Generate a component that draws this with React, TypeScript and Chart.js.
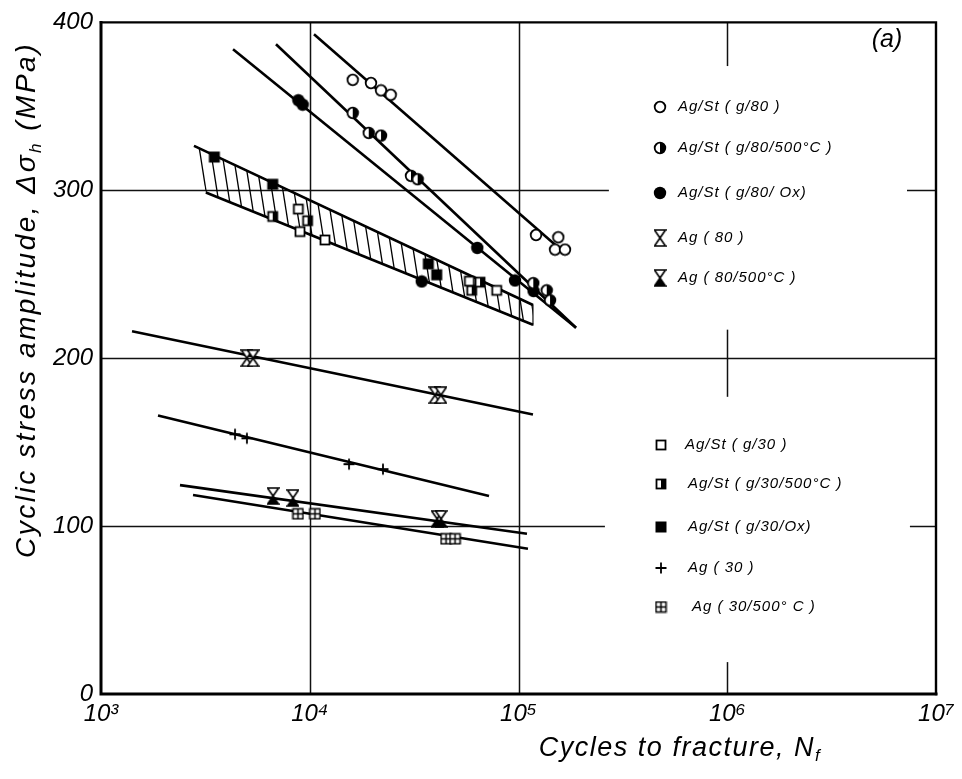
import React, { useEffect, useRef } from 'react';
import { Chart, registerables } from 'chart.js';
Chart.register(...registerables);

type P = { x: number; y: number };

// ---- axes ----
const xTickValues = [1e3, 1e4, 1e5, 1e6, 1e7];
const xTickLabels = ['10³', '10⁴', '10⁵', '10⁶', '10⁷'];
const yTickValues = [0, 100, 200, 300, 400];

// ---- partial grid lines (data coords) ----
const gridVertical = [
  { x: 1e4, y0: 0, y1: 400 },
  { x: 1e5, y0: 0, y1: 400 },
  { x: 1e6, y0: 374, y1: 400 },
  { x: 1e6, y0: 177, y1: 217 },
  { x: 1e6, y0: 0, y1: 19 },
];
const gridHorizontal = [
  { y: 300, x0: 1e3, x1: 271000 },
  { y: 300, x0: 7.26e6, x1: 1e7 },
  { y: 200, x0: 1e3, x1: 1e7 },
  { y: 100, x0: 1e3, x1: 259400 },
  { y: 100, x0: 7.5e6, x1: 1e7 },
];

// ---- measured points ----
const agStG80: P[] = [
  { x: 16060, y: 365.8 }, { x: 19650, y: 363.9 }, { x: 21950, y: 359.5 }, { x: 24420, y: 356.9 },
  { x: 121300, y: 273.4 }, { x: 155100, y: 272.0 }, { x: 149600, y: 264.7 }, { x: 167000, y: 264.7 },
];
const agStG80_500: P[] = [
  { x: 16060, y: 346.1 }, { x: 19160, y: 334.2 }, { x: 21950, y: 332.6 }, { x: 30550, y: 308.6 },
  { x: 32890, y: 306.6 }, { x: 117700, y: 244.7 }, { x: 136500, y: 240.4 }, { x: 141600, y: 234.5 },
];
const agStG80Ox: P[] = [
  { x: 8815, y: 353.6 }, { x: 9250, y: 351.0 }, { x: 34390, y: 245.7 }, { x: 63480, y: 265.7 },
  { x: 96200, y: 246.3 }, { x: 118000, y: 240.0 },
];
const ag80: P[] = [
  { x: 5000, y: 200 }, { x: 5350, y: 200 }, { x: 39800, y: 178 }, { x: 42500, y: 178 },
];
const ag80_500: P[] = [
  { x: 6670, y: 117.9 }, { x: 8310, y: 116.7 }, { x: 40740, y: 104.3 }, { x: 42560, y: 104.3 },
];
const agStG30: P[] = [
  { x: 8815, y: 288.8 }, { x: 8980, y: 275.4 }, { x: 11830, y: 270.4 }, { x: 58130, y: 245.9 }, { x: 78630, y: 240.4 },
];
const agStG30_500: P[] = [
  { x: 6645, y: 284.4 }, { x: 9765, y: 281.9 }, { x: 59680, y: 240.4 }, { x: 65400, y: 245.3 },
];
const agStG30Ox: P[] = [
  { x: 3490, y: 319.8 }, { x: 6645, y: 303.6 }, { x: 36980, y: 256.2 }, { x: 40570, y: 249.7 },
];
const ag30: P[] = [
  { x: 4385, y: 154.7 }, { x: 5000, y: 152.3 }, { x: 15420, y: 136.9 }, { x: 22430, y: 133.9 },
];
const ag30_500: P[] = [
  { x: 8780, y: 107.3 }, { x: 10590, y: 107.3 }, { x: 44960, y: 92.4 }, { x: 49640, y: 92.4 },
];

// ---- fitted lines ----
const fitG80: P[] = [{ x: 10480, y: 392.9 }, { x: 168900, y: 261.9 }];
const fitG80_500: P[] = [{ x: 6890, y: 387.0 }, { x: 188600, y: 218.1 }];
const fitG80Ox: P[] = [{ x: 4290, y: 384.0 }, { x: 188600, y: 218.1 }];
const bandUpper: P[] = [{ x: 2790, y: 326.5 }, { x: 117300, y: 231.7 }];
const bandLower: P[] = [{ x: 3180, y: 298.7 }, { x: 117300, y: 219.9 }];
const fitAg80: P[] = [{ x: 1408, y: 216.0 }, { x: 117300, y: 166.5 }];
const fitAg30: P[] = [{ x: 1875, y: 165.9 }, { x: 72230, y: 117.9 }];
const fitAg80_500: P[] = [{ x: 2390, y: 124.4 }, { x: 109800, y: 95.4 }];
const fitAg30_500: P[] = [{ x: 2760, y: 118.5 }, { x: 111000, y: 86.5 }];

// ---- legend text ----
const legendTop = ['Ag/St ( g/80 )', 'Ag/St ( g/80/500°C )', 'Ag/St ( g/80/ Ox)', 'Ag ( 80 )', 'Ag ( 80/500°C )'];
const legendBottom = ['Ag/St ( g/30 )', 'Ag/St ( g/30/500°C )', 'Ag/St ( g/30/Ox)', 'Ag ( 30 )', 'Ag ( 30/500° C )'];

const FONT = "'Liberation Sans', 'DejaVu Sans', sans-serif";

function mk(w: number, h: number, draw: (g: CanvasRenderingContext2D) => void) {
  const c = document.createElement('canvas');
  c.width = w; c.height = h;
  const g = c.getContext('2d')!;
  g.strokeStyle = '#000'; g.fillStyle = '#000';
  draw(g);
  return c;
}

function makeMarkers() {
  const circ = (g: CanvasRenderingContext2D, r: number) => { g.beginPath(); g.arc(7, 7, r, 0, Math.PI * 2); };
  const circleOpen = mk(14, 14, g => { circ(g, 5.3); g.fillStyle = '#fff'; g.fill(); g.lineWidth = 1.8; g.stroke(); });
  const circleHalf = mk(14, 14, g => {
    circ(g, 5.3); g.fillStyle = '#fff'; g.fill();
    g.beginPath(); g.arc(7, 7, 5.3, -Math.PI / 2, Math.PI / 2); g.closePath(); g.fillStyle = '#000'; g.fill();
    circ(g, 5.3); g.lineWidth = 1.8; g.stroke();
  });
  const circleFilled = mk(14, 14, g => { circ(g, 6.2); g.fill(); });
  const squareOpen = mk(14, 14, g => {
    g.fillStyle = '#fff'; g.fillRect(2, 2, 10, 10); g.lineWidth = 1.8; g.strokeRect(2.5, 2.5, 9, 9);
  });
  const squareHalf = mk(14, 14, g => {
    g.fillStyle = '#fff'; g.fillRect(2, 2, 10, 10); g.fillStyle = '#000'; g.fillRect(7, 2.5, 5, 9);
    g.lineWidth = 1.8; g.strokeRect(2.5, 2.5, 9, 9);
  });
  const squareFilled = mk(14, 14, g => { g.fillRect(1.5, 1.5, 11, 11); });
  const plus = mk(14, 14, g => {
    g.lineWidth = 1.8; g.beginPath(); g.moveTo(7, 1.5); g.lineTo(7, 12.5); g.moveTo(1.5, 7); g.lineTo(12.5, 7); g.stroke();
  });
  const squareGrid = mk(13, 13, g => {
    g.fillStyle = '#fff'; g.fillRect(1, 1, 11, 11); g.lineWidth = 1.5; g.strokeRect(1.5, 1.5, 10, 10);
    g.beginPath(); g.moveTo(6.5, 1.5); g.lineTo(6.5, 11.5); g.moveTo(1.5, 6.5); g.lineTo(11.5, 6.5); g.stroke();
  });
  const hg = (g: CanvasRenderingContext2D, fillBottom: boolean) => {
    g.lineWidth = 1.6; g.lineJoin = 'miter';
    g.beginPath(); g.moveTo(1, 1); g.lineTo(12, 1); g.lineTo(6.5, 9); g.closePath();
    g.fillStyle = '#fff'; g.fill(); g.stroke();
    g.beginPath(); g.moveTo(6.5, 9); g.lineTo(12, 17); g.lineTo(1, 17); g.closePath();
    g.fillStyle = fillBottom ? '#000' : '#fff'; g.fill(); g.stroke();
  };
  const hourOpen = mk(13, 18, g => hg(g, false));
  const hourHalf = mk(13, 18, g => hg(g, true));
  return { circleOpen, circleHalf, circleFilled, squareOpen, squareHalf, squareFilled, plus, squareGrid, hourOpen, hourHalf };
}

function makeHatch(ctx: CanvasRenderingContext2D) {
  const W = 11, H = 70;
  const c = mk(W, H, g => {
    g.lineWidth = 1.3;
    for (const off of [-W, 0, W]) { g.beginPath(); g.moveTo(off, 0); g.lineTo(off + W, H); g.stroke(); }
  });
  return ctx.createPattern(c, 'repeat')!;
}

function drawSubText(ctx: CanvasRenderingContext2D, parts: { t: string; sub?: boolean }[], size: number, cx: number, cy: number) {
  const main = `italic ${size}px ${FONT}`;
  const small = `italic ${Math.round(size * 0.62)}px ${FONT}`;
  let total = 0;
  const widths = parts.map(p => { ctx.font = p.sub ? small : main; const w = ctx.measureText(p.t).width; total += w; return w; });
  let x = cx - total / 2;
  ctx.textBaseline = 'middle';
  ctx.textAlign = 'left';
  parts.forEach((p, i) => {
    ctx.font = p.sub ? small : main;
    ctx.fillText(p.t, x, p.sub ? cy + size * 0.32 : cy);
    x += widths[i];
  });
}

export default function App() {
  const ref = useRef<HTMLCanvasElement>(null);
  useEffect(() => {
    document.body.style.margin = '0';
    const canvas = ref.current!;
    const ctx0 = canvas.getContext('2d')!;
    const m = makeMarkers();
    const hatch = makeHatch(ctx0);

    const pts = (label: string, data: P[], style: HTMLCanvasElement) => ({
      label, data, type: 'scatter' as const, showLine: false, pointStyle: style, pointRadius: 6,
    });
    const line = (label: string, data: P[], width = 2.6) => ({
      label, data, type: 'scatter' as const, showLine: true, pointRadius: 0, borderColor: '#000',
      borderWidth: width, fill: false, tension: 0,
    });

    const legendTopMarkers = [m.circleOpen, m.circleHalf, m.circleFilled, m.hourOpen, m.hourHalf];
    const legendBottomMarkers = [m.squareOpen, m.squareHalf, m.squareFilled, m.plus, m.squareGrid];

    const decor = {
      id: 'decor',
      beforeDatasetsDraw(chart: any) {
        const { ctx, scales } = chart;
        const xs = scales.x, ys = scales.y;
        ctx.save();
        ctx.strokeStyle = '#111';
        ctx.lineWidth = 1.5;
        gridVertical.forEach(g => {
          const px = Math.round(xs.getPixelForValue(g.x)) + 0.5;
          ctx.beginPath(); ctx.moveTo(px, ys.getPixelForValue(g.y0)); ctx.lineTo(px, ys.getPixelForValue(g.y1)); ctx.stroke();
        });
        gridHorizontal.forEach(g => {
          const py = Math.round(ys.getPixelForValue(g.y)) + 0.5;
          ctx.beginPath(); ctx.moveTo(xs.getPixelForValue(g.x0), py); ctx.lineTo(xs.getPixelForValue(g.x1), py); ctx.stroke();
        });
        ctx.restore();
      },
      afterDraw(chart: any) {
        const { ctx, chartArea: a } = chart;
        ctx.save();
        ctx.strokeStyle = '#000';
        ctx.lineCap = 'square';
        ctx.lineWidth = 3;
        ctx.beginPath(); ctx.moveTo(a.left, a.top); ctx.lineTo(a.left, a.bottom); ctx.lineTo(a.right, a.bottom); ctx.stroke();
        ctx.lineWidth = 2.4;
        ctx.beginPath(); ctx.moveTo(a.left, a.top); ctx.lineTo(a.right, a.top); ctx.lineTo(a.right, a.bottom); ctx.stroke();

        ctx.fillStyle = '#000';
        // legends
        (ctx as any).letterSpacing = '1px';
        ctx.font = `italic 15px ${FONT}`;
        ctx.textBaseline = 'middle';
        ctx.textAlign = 'left';
        const topY = [107, 148, 193, 238, 278];
        legendTop.forEach((t, i) => {
          const mm = legendTopMarkers[i];
          ctx.drawImage(mm, 660 - mm.width / 2, topY[i] - mm.height / 2);
          ctx.fillText(t, 678, topY[i]);
        });
        const botY = [445, 484, 527, 568, 607];
        const botX = [685, 688, 688, 688, 692];
        legendBottom.forEach((t, i) => {
          const mm = legendBottomMarkers[i];
          ctx.drawImage(mm, 661 - mm.width / 2, botY[i] - mm.height / 2);
          ctx.fillText(t, botX[i], botY[i]);
        });
        (ctx as any).letterSpacing = '0px';
        ctx.font = `italic 25px ${FONT}`;
        ctx.textAlign = 'center';
        ctx.fillText('(a)', 887, 40);

        // axis titles
        (ctx as any).letterSpacing = '1.5px';
        drawSubText(ctx, [{ t: 'Cycles to fracture, N' }, { t: 'f', sub: true }], 27, 680, 748);
        ctx.save();
        ctx.translate(27, 300);
        ctx.rotate(-Math.PI / 2);
        (ctx as any).letterSpacing = '2.5px';
        drawSubText(ctx, [{ t: 'Cyclic stress amplitude, Δσ' }, { t: 'h', sub: true }, { t: ' (MPa)' }], 28, 0, 0);
        ctx.restore();
        ctx.restore();
      },
    };

    const bandShape = [...bandUpper, ...bandLower.slice().reverse()];

    const chart = new Chart(canvas, {
      type: 'scatter',
      data: {
        datasets: [
          pts('Ag/St (g/80)', agStG80, m.circleOpen),
          pts('Ag/St (g/80/500°C)', agStG80_500, m.circleHalf),
          pts('Ag/St (g/80/Ox)', agStG80Ox, m.circleFilled),
          pts('Ag (80)', ag80, m.hourOpen),
          pts('Ag (80/500°C)', ag80_500, m.hourHalf),
          pts('Ag/St (g/30)', agStG30, m.squareOpen),
          pts('Ag/St (g/30/500°C)', agStG30_500, m.squareHalf),
          pts('Ag/St (g/30/Ox)', agStG30Ox, m.squareFilled),
          pts('Ag (30)', ag30, m.plus),
          pts('Ag (30/500°C)', ag30_500, m.squareGrid),
          line('fit g/80', fitG80),
          line('fit g/80/500', fitG80_500),
          line('fit g/80/Ox', fitG80Ox),
          line('band upper', bandUpper),
          line('band lower', bandLower),
          line('fit Ag80', fitAg80),
          line('fit Ag30', fitAg30),
          line('fit Ag80/500', fitAg80_500),
          line('fit Ag30/500', fitAg30_500),
          {
            label: 'band', data: bandShape, type: 'scatter' as const, showLine: true, pointRadius: 0,
            borderColor: '#111', borderWidth: 1.2, fill: 'shape', backgroundColor: hatch as any, tension: 0,
          } as any,
        ],
      },
      options: {
        responsive: false,
        animation: false,
        events: [],
        layout: { padding: { left: 0, right: 26, top: 19, bottom: 0 } },
        plugins: { legend: { display: false }, tooltip: { enabled: false }, title: { display: false } },
        scales: {
          x: {
            type: 'logarithmic', min: 1e3, max: 1e7,
            afterBuildTicks: (s: any) => { s.ticks = xTickValues.map(v => ({ value: v, major: true })); },
            afterFit: (s: any) => { s.height = 85; },
            grid: { display: false, drawTicks: false },
            border: { display: false },
            ticks: {
              autoSkip: false, maxRotation: 0, padding: 6, color: '#000',
              font: { family: FONT, size: 24, style: 'italic' },
              callback: (v: any) => { const i = xTickValues.indexOf(Number(v)); return i >= 0 ? xTickLabels[i] : ''; },
            },
          },
          y: {
            type: 'linear', min: 0, max: 400,
            afterBuildTicks: (s: any) => { s.ticks = yTickValues.map(v => ({ value: v })); },
            afterFit: (s: any) => { s.width = 101; },
            grid: { display: false, drawTicks: false },
            border: { display: false },
            ticks: { padding: 8, color: '#000', font: { family: FONT, size: 24, style: 'italic' } },
          },
        },
      },
      plugins: [decor],
    } as any);
    return () => chart.destroy();
  }, []);
  return (
    <div style={{ width: 962, height: 779 }}>
      <canvas ref={ref} width={962} height={779} style={{ display: 'block' }} />
    </div>
  );
}
